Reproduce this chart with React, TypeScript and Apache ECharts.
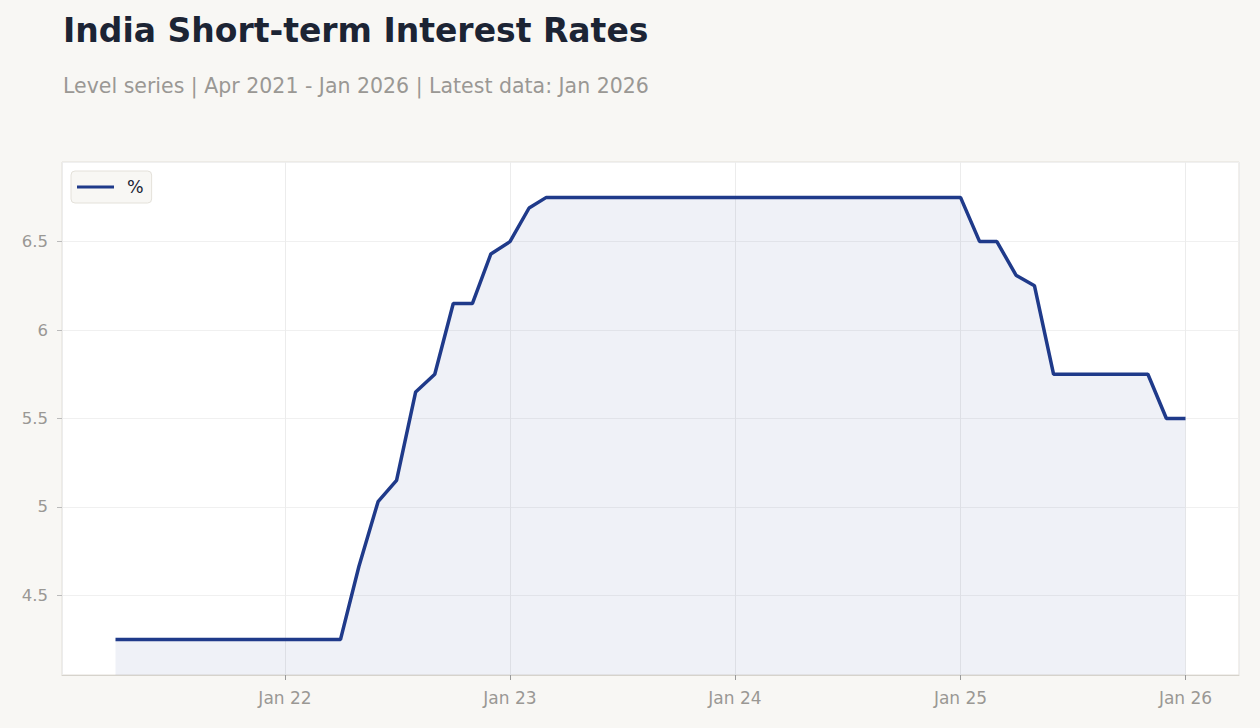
import React, { useEffect, useRef } from "react";
import * as echarts from "echarts";

const TITLE = "India Short-term Interest Rates";
const SUBTITLE = "Level series | Apr 2021 - Jan 2026 | Latest data: Jan 2026";
const SERIES_NAME = "%";
const START_YEAR = 2021;
const START_MONTH = 3; // April (0-based)
const MONTH_NAMES = ["Jan", "Feb", "Mar", "Apr", "May", "Jun", "Jul", "Aug", "Sep", "Oct", "Nov", "Dec"];
const VALUES = [
  4.25, 4.25, 4.25, 4.25, 4.25, 4.25, 4.25, 4.25, 4.25, 4.25, 4.25, 4.25,
  4.25, 4.665, 5.03, 5.15, 5.65, 5.75, 6.15, 6.15, 6.43, 6.5, 6.69, 6.75,
  6.75, 6.75, 6.75, 6.75, 6.75, 6.75, 6.75, 6.75, 6.75, 6.75, 6.75, 6.75,
  6.75, 6.75, 6.75, 6.75, 6.75, 6.75, 6.75, 6.75, 6.75, 6.75, 6.5, 6.5,
  6.31, 6.25, 5.75, 5.75, 5.75, 5.75, 5.75, 5.75, 5.5, 5.5,
];

export default function App() {
  const ref = useRef<HTMLDivElement>(null);
  useEffect(() => {
    document.body.style.margin = "0";
    document.body.style.background = "#f8f7f4";
    if (!ref.current) return;
    const chart = echarts.init(ref.current, undefined, { renderer: "svg" });
    const data = VALUES.map((v, i) => [Date.UTC(START_YEAR, START_MONTH + i, 1), v]);
    const t0 = data[0][0] as number;
    const t1 = data[data.length - 1][0] as number;
    const pad = (t1 - t0) * 0.05;
    const font = "DejaVu Sans, sans-serif";
    chart.setOption({
      animation: false,
      useUTC: true,
      backgroundColor: "#f8f7f4",
      textStyle: { fontFamily: font },
      title: [
        {
          text: TITLE,
          left: 63,
          top: 14,
          padding: 0,
          textStyle: { fontSize: 33, fontWeight: "bold", color: "#1c2434", fontFamily: font },
        },
        {
          text: SUBTITLE,
          left: 63,
          top: 75,
          padding: 0,
          textStyle: { fontSize: 20.5, fontWeight: "normal", color: "#9a9894", fontFamily: font },
        },
      ],
      legend: {
        left: 71,
        top: 171,
        padding: [7, 8, 7, 6],
        backgroundColor: "#f8f7f4",
        borderColor: "#e4e1da",
        borderWidth: 1,
        borderRadius: 4,
        itemWidth: 37,
        itemHeight: 14,
        itemGap: 10,
        textStyle: { fontSize: 17.5, color: "#1c2434", fontFamily: font, padding: [0, 0, 0, 8] },
        data: [{ name: SERIES_NAME, icon: "path://M0,5.5 L37,5.5 L37,8.5 L0,8.5 Z" }],
      },
      grid: {
        left: 62,
        right: 21,
        top: 162,
        bottom: 53,
        show: true,
        backgroundColor: "#ffffff",
        borderColor: "#e2dfd8",
        borderWidth: 1,
        containLabel: false,
      },
      xAxis: {
        type: "time",
        min: t0 - pad,
        max: t1 + pad,
        splitNumber: 5,
        minInterval: 365 * 86400000,
        axisLine: { show: true, lineStyle: { color: "#d6d3cc" } },
        axisTick: { show: true, length: 5, lineStyle: { color: "#999" } },
        axisLabel: {
          color: "#9a9894",
          fontSize: 17,
          margin: 14,
          fontFamily: font,
          formatter: (val: number) => {
            const d = new Date(val);
            return MONTH_NAMES[d.getUTCMonth()] + " " + String(d.getUTCFullYear()).slice(2);
          },
        },
        splitLine: { show: true, lineStyle: { color: "#ececec" } },
      },
      yAxis: {
        type: "value",
        min: 4.05,
        max: 6.95,
        axisLine: { show: false },
        axisTick: { show: true, length: 5, lineStyle: { color: "#bbb" } },
        axisLabel: {
          color: "#9a9894",
          fontSize: 16.5,
          margin: 14,
          fontFamily: font,
          showMinLabel: false,
          showMaxLabel: false,
        },
        splitLine: { show: true, lineStyle: { color: "#f0f0f0" } },
      },
      series: [
        {
          name: SERIES_NAME,
          type: "line",
          data,
          symbol: "none",
          lineStyle: { color: "#1f3a8a", width: 3.5 },
          itemStyle: { color: "#1f3a8a" },
          areaStyle: { color: "rgba(31,58,138,0.1)", origin: "start" },
        },
      ],
    });
    return () => chart.dispose();
  }, []);
  return <div ref={ref} style={{ width: 1260, height: 728 }} />;
}
